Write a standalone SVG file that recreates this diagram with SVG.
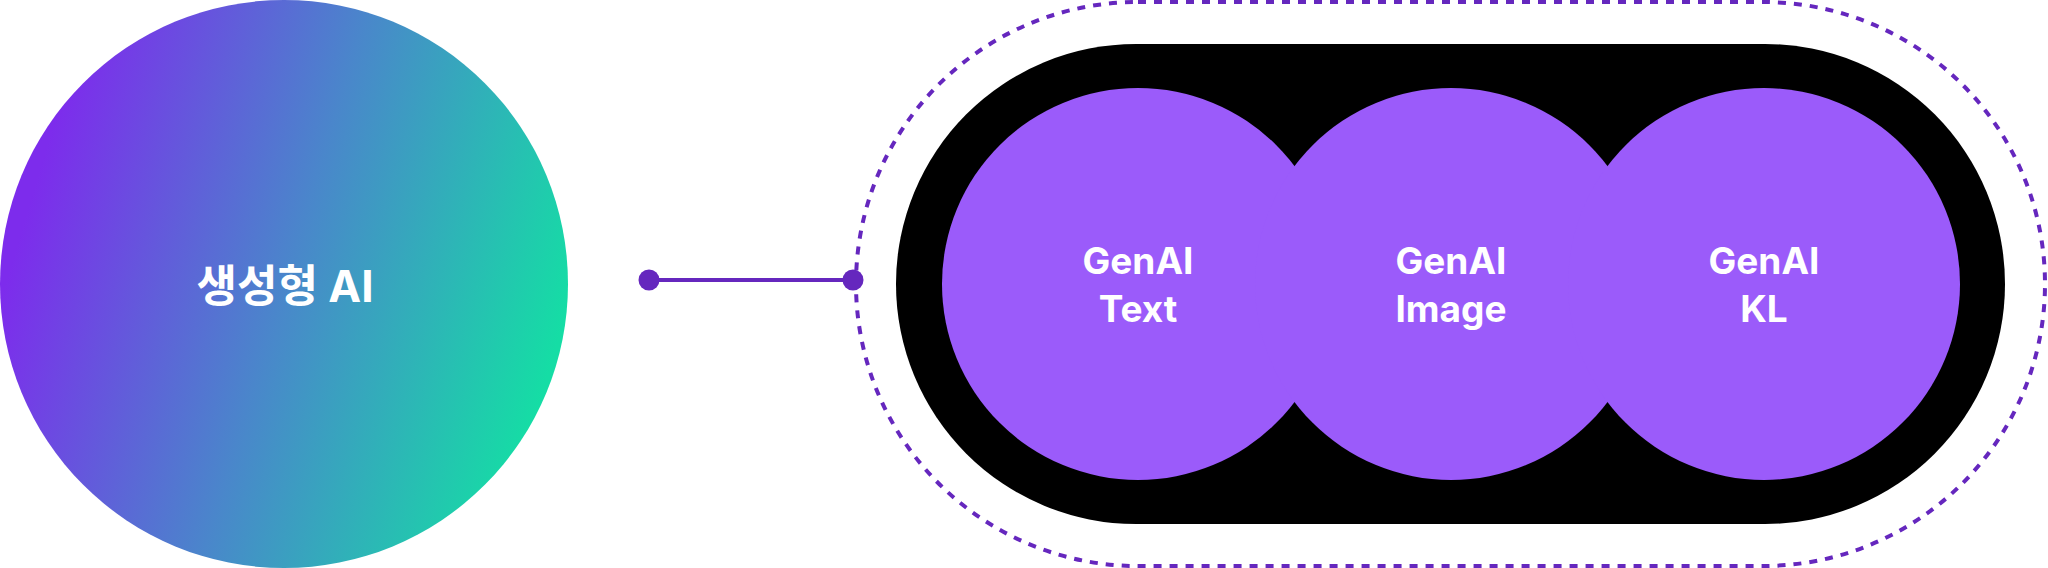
<svg xmlns="http://www.w3.org/2000/svg" width="2048" height="568" viewBox="0 0 2048 568">
  <defs>
    <linearGradient id="g1" x1="0" y1="0.35" x2="1" y2="0.65">
      <stop offset="0.05" stop-color="#7D2CEC"/>
      <stop offset="0.5" stop-color="#4A86CB"/>
      <stop offset="0.97" stop-color="#15DDA5"/>
    </linearGradient>
  </defs>
  <style>
    .lbl { fill: #ffffff; font-family: Inter, "Noto Sans CJK KR", sans-serif; font-weight: 700; text-anchor: middle; }
    .sub { fill: #9B5BFA; }
    .dot { fill: #6527BE; }
    .conn { stroke: #6527BE; stroke-width: 4; fill: none; }
  </style>
  <rect width="2048" height="568" fill="#ffffff"/>
  <g id="genai">
    <circle cx="284" cy="284" r="284" fill="url(#g1)"/>
    <text class="lbl" x="285" y="302" font-size="44">생성형 AI</text>
  </g>
  <g id="connectors">
    <line class="conn" x1="649" y1="280" x2="853" y2="280"/>
    <circle class="dot" cx="649" cy="280" r="10.5"/>
  </g>
  <g id="group">
    <rect x="856" y="2" width="1189" height="564" rx="282" ry="282" fill="none" stroke="#6527BE" stroke-width="4" stroke-dasharray="8 8"/>
    <rect x="896" y="44" width="1109" height="480" rx="240" ry="240" fill="#000000"/>
  </g>
  <g id="genai-text">
    <circle class="sub" cx="1138" cy="284" r="196"/>
  </g>
  <g id="genai-image">
    <circle class="sub" cx="1451" cy="284" r="196"/>
  </g>
  <g id="genai-kl">
    <circle class="sub" cx="1764" cy="284" r="196"/>
  </g>
  <g id="labels">
    <text class="lbl" x="1138" y="274" font-size="37">GenAI</text>
    <text class="lbl" x="1138" y="322" font-size="37">Text</text>
    <text class="lbl" x="1451" y="274" font-size="37">GenAI</text>
    <text class="lbl" x="1451" y="322" font-size="37">Image</text>
    <text class="lbl" x="1764" y="274" font-size="37">GenAI</text>
    <text class="lbl" x="1764" y="322" font-size="37">KL</text>
  </g>
  <g id="connector-end">
    <circle class="dot" cx="853" cy="280" r="10.5"/>
  </g>
</svg>
